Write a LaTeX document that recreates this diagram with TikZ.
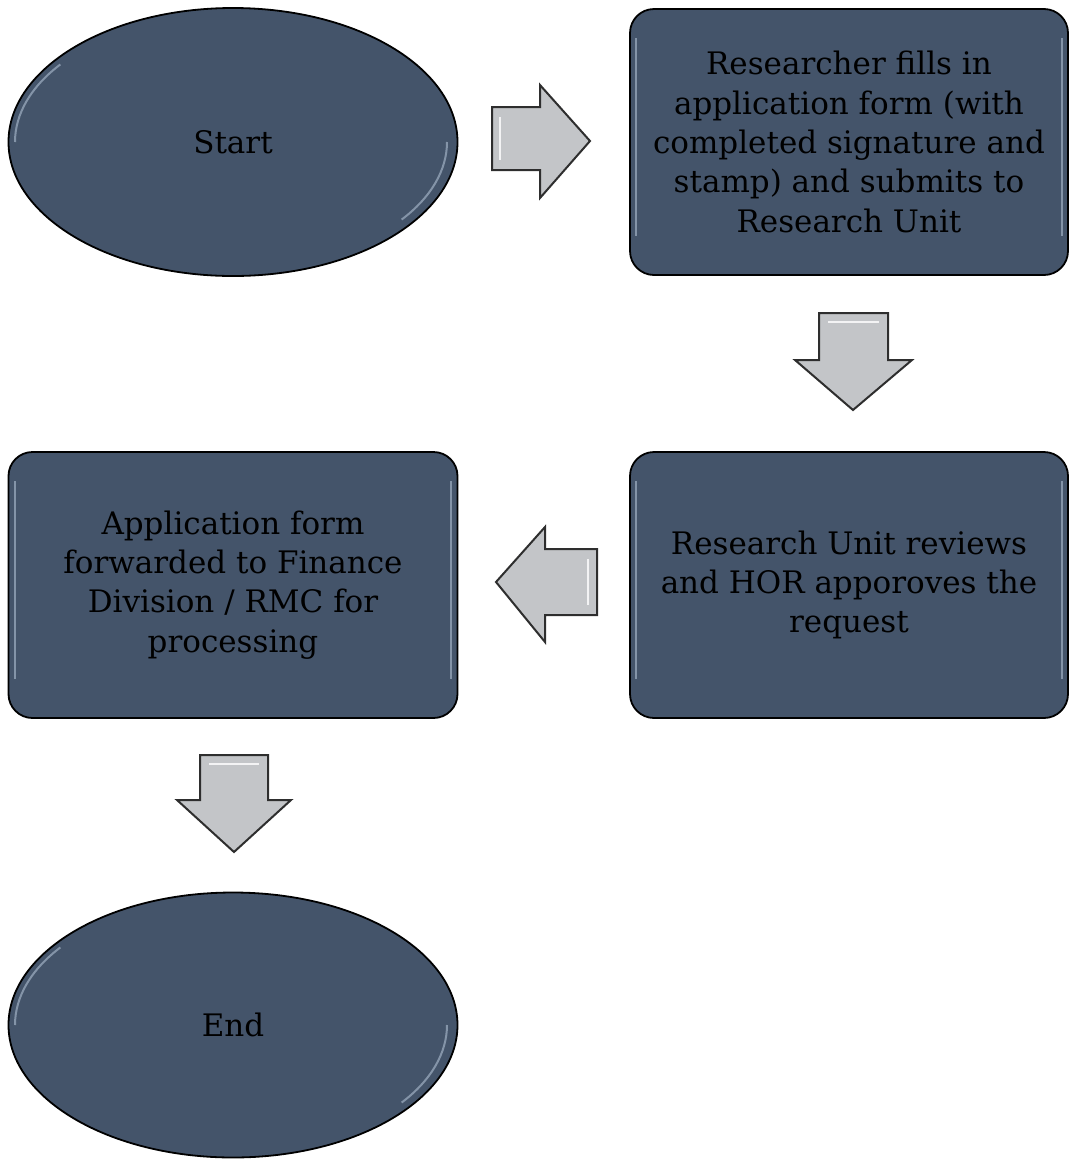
\documentclass[tikz,border=0pt]{standalone}
\usepackage{fontspec}
\setmainfont{DejaVu Serif}
\usetikzlibrary{shapes.geometric}
\definecolor{slate}{HTML}{44546A}
\definecolor{slatehi}{HTML}{9AAABE}
\definecolor{arrowfill}{HTML}{C3C5C8}
\definecolor{arrowline}{HTML}{2E2E2E}
\tikzset{
  txt/.style={font=\fontsize{31}{39.3}\selectfont, text=black, align=center},
  oval/.style={ellipse, draw=black, line width=1.8pt, fill=slate, minimum width=449pt, minimum height=268pt, inner sep=0pt, txt},
  stepbox/.style={rectangle, rounded corners=24pt, draw=black, line width=1.8pt, fill=slate, minimum width=438pt, minimum height=266pt, inner sep=0pt, txt},
  blockarrow/.style={draw=arrowline, line width=2pt, fill=arrowfill, line join=miter},
  gloss/.style={draw=slatehi, line width=2pt, opacity=0.75}
}
\begin{document}
\begin{tikzpicture}[x=1pt,y=-1pt]
\useasboundingbox (0,0) rectangle (1069,1160);
% nodes
\node[oval] (start) at (233,142) {Start};
\node[stepbox] (fill) at (849,142) {Researcher fills in\\application form (with\\completed signature and\\stamp) and submits to\\Research Unit};
\node[stepbox] (review) at (849,585) {Research Unit reviews\\and HOR apporoves the\\request};
\node[stepbox, minimum width=449pt] (fwd) at (233,585) {Application form\\forwarded to Finance\\Division / RMC for\\processing};
\node[oval, minimum height=265pt] (end) at (233,1025) {End};
% gloss highlights
\foreach \n in {start,end}{
  \draw[gloss] (\n.center) ++(-218,0) arc[start angle=180,end angle=218,x radius=214,y radius=126];
  \draw[gloss] (\n.center) ++(214,0) arc[start angle=0,end angle=38,x radius=214,y radius=126];
}
\foreach \n in {fill,review,fwd}{
  \draw[gloss] ([xshift=7pt,yshift=-30pt]\n.north west) -- ([xshift=7pt,yshift=40pt]\n.south west);
  \draw[gloss] ([xshift=-7pt,yshift=-30pt]\n.north east) -- ([xshift=-7pt,yshift=40pt]\n.south east);
}
% block arrows (right, down, left, down)
\draw[blockarrow] (492,107) -- (540,107) -- (540,85) -- (590,141) -- (540,198) -- (540,170) -- (492,170) -- cycle;
\draw[blockarrow] (819,313) -- (888,313) -- (888,360) -- (912,360) -- (853,410) -- (795,360) -- (819,360) -- cycle;
\draw[blockarrow] (597,549) -- (545,549) -- (545,527) -- (496,582) -- (545,642) -- (545,615) -- (597,615) -- cycle;
\draw[blockarrow] (200,755) -- (268,755) -- (268,800) -- (291,800) -- (234,852) -- (177,800) -- (200,800) -- cycle;
% arrow bevel highlights
\draw[white, line width=1.8pt, opacity=0.8] (500,117) -- (500,160);
\draw[white, line width=1.8pt, opacity=0.8] (828,322) -- (879,322);
\draw[white, line width=1.8pt, opacity=0.8] (588,559) -- (588,605);
\draw[white, line width=1.8pt, opacity=0.8] (209,764) -- (259,764);
\end{tikzpicture}
\end{document}
